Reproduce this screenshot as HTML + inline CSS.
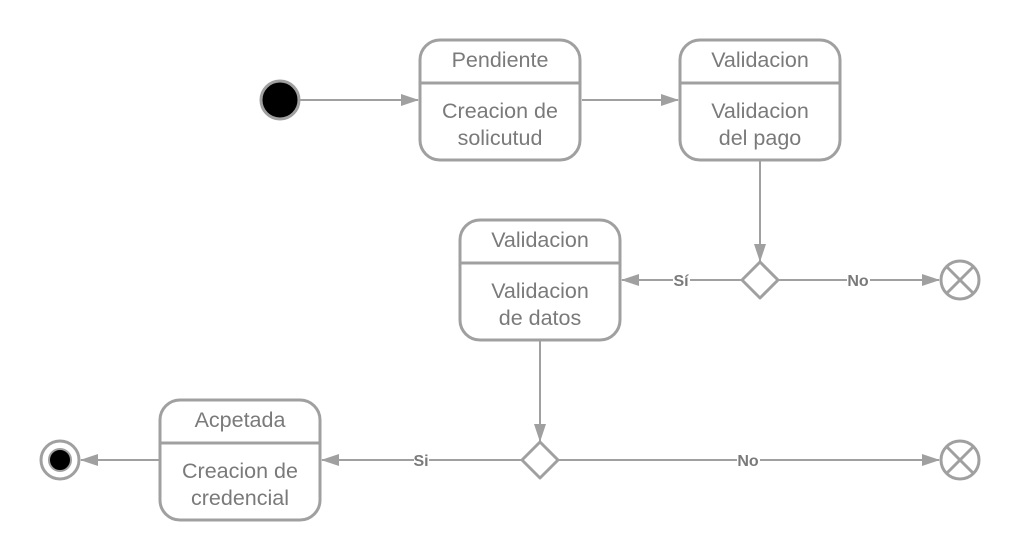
<!DOCTYPE html>
<html><head><meta charset="utf-8"><style>
html,body{margin:0;padding:0;background:#fff;}
svg{display:block;}
text{font-family:"Liberation Sans",sans-serif;fill:#7a7a7a;}
</style></head><body>
<svg width="1020" height="560" viewBox="0 0 1020 560" xmlns="http://www.w3.org/2000/svg">
<defs>
<marker id="a" markerWidth="18" markerHeight="12" refX="17" refY="6" orient="auto" markerUnits="userSpaceOnUse">
<path d="M0,0 L18,6 L0,12 Z" fill="#a0a0a0"/>
</marker>
</defs>
<g stroke="#a0a0a0" stroke-width="2" fill="none">
<line x1="300" y1="100" x2="418" y2="100" marker-end="url(#a)"/>
<line x1="582" y1="100" x2="678" y2="100" marker-end="url(#a)"/>
<line x1="760" y1="161" x2="760" y2="261" marker-end="url(#a)"/>
<line x1="742" y1="280" x2="622" y2="280" marker-end="url(#a)"/>
<line x1="778" y1="280" x2="939" y2="280" marker-end="url(#a)"/>
<line x1="540" y1="341" x2="540" y2="441" marker-end="url(#a)"/>
<line x1="522" y1="460" x2="322" y2="460" marker-end="url(#a)"/>
<line x1="558" y1="460" x2="939" y2="460" marker-end="url(#a)"/>
<line x1="159" y1="460" x2="81" y2="460" marker-end="url(#a)"/>
</g>
<g stroke="#a0a0a0" stroke-width="3" fill="#fff">
<rect x="420" y="40" width="160" height="120" rx="20"/>
<line x1="420" y1="83" x2="580" y2="83"/>
<rect x="680" y="40" width="160" height="120" rx="20"/>
<line x1="680" y1="83" x2="840" y2="83"/>
<rect x="460" y="220" width="160" height="120" rx="20"/>
<line x1="460" y1="263" x2="620" y2="263"/>
<rect x="160" y="400" width="160" height="120" rx="20"/>
<line x1="160" y1="443" x2="320" y2="443"/>
<path d="M760,262 L778,280 L760,298 L742,280 Z" stroke-linejoin="round"/>
<path d="M540,442 L558,460 L540,478 L522,460 Z" stroke-linejoin="round"/>
<circle cx="960" cy="280" r="19"/>
<circle cx="960" cy="460" r="19"/>
<circle cx="60" cy="460" r="19"/>
</g>
<g stroke="#a0a0a0" stroke-width="3">
<line x1="947" y1="267" x2="973" y2="293"/><line x1="973" y1="267" x2="947" y2="293"/>
<line x1="947" y1="447" x2="973" y2="473"/><line x1="973" y1="447" x2="947" y2="473"/>
</g>
<circle cx="280" cy="100" r="19" fill="#000" stroke="#a0a0a0" stroke-width="3"/>
<circle cx="60" cy="460" r="11" fill="#000" stroke="#a0a0a0" stroke-width="2"/>
<g font-size="21.5" text-anchor="middle">
<text x="500" y="67">Pendiente</text>
<text x="500" y="118">Creacion de</text>
<text x="500" y="145">solicutud</text>
<text x="760" y="67">Validacion</text>
<text x="760" y="118">Validacion</text>
<text x="760" y="145">del pago</text>
<text x="540" y="247">Validacion</text>
<text x="540" y="298">Validacion</text>
<text x="540" y="325">de datos</text>
<text x="240" y="427">Acpetada</text>
<text x="240" y="478">Creacion de</text>
<text x="240" y="505">credencial</text>
</g>
<g font-size="16" font-weight="bold" text-anchor="middle">
<rect x="673" y="271" width="17" height="18" fill="#fff"/>
<text x="681" y="286">Sí</text>
<rect x="847" y="271" width="23" height="18" fill="#fff"/>
<text x="858" y="286">No</text>
<rect x="414" y="451" width="15" height="18" fill="#fff"/>
<text x="421" y="466">Si</text>
<rect x="737" y="451" width="23" height="18" fill="#fff"/>
<text x="748" y="466">No</text>
</g>
</svg>
</body></html>
